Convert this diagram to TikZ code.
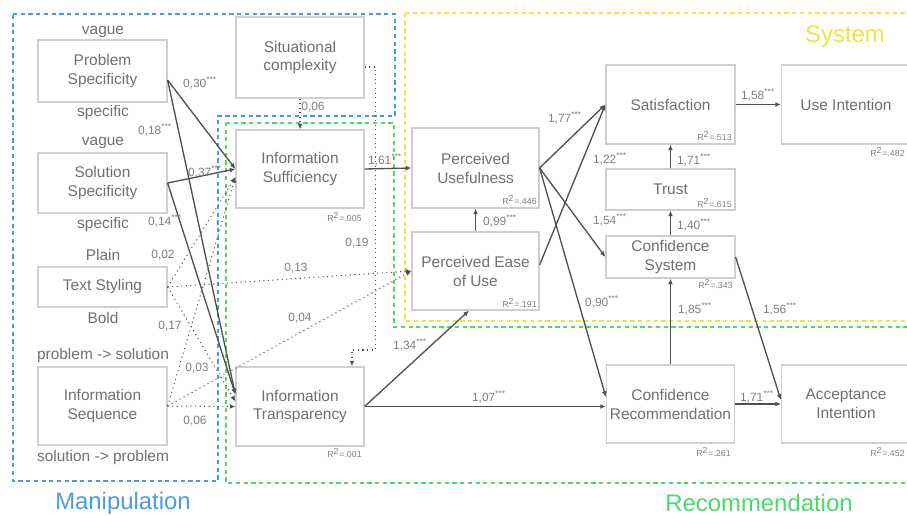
\documentclass[tikz,border=0pt]{standalone}
\usepackage{fontspec}
\setmainfont{Liberation Sans}
\usepackage{xcolor}
\usetikzlibrary{arrows.meta,positioning}
\definecolor{manblue}{HTML}{4A9BE3}
\definecolor{recgreen}{HTML}{4CD96B}
\definecolor{sysyellow}{HTML}{EFE445}
\definecolor{boxgray}{HTML}{CFCFCF}
\definecolor{txtgray}{HTML}{707070}
\definecolor{coefgray}{HTML}{808080}
\definecolor{linegray}{HTML}{505050}

\begin{document}
\begin{tikzpicture}[
    x=0.02cm, y=-0.02cm,
    box/.style={rectangle, draw=boxgray, line width=0.7pt, fill=white, text=txtgray, align=center, font=\fontsize{8.8}{10.8}\selectfont, minimum width=2.58cm, minimum height=#1, inner sep=1pt},
    box/.default=1.56cm,
    frame/.style={line width=1.1pt, dash pattern=on 2.4pt off 2pt},
    arrow/.style={-{Latex[length=3.2pt,width=2.8pt]}, draw=linegray, line width=0.75pt},
    dotarrow/.style={arrow, line width=0.6pt, dotted},
    coef/.style={font=\fontsize{6.8}{8}\selectfont, text=coefgray, inner sep=0pt},
    rsq/.style={font=\fontsize{5}{6}\selectfont, text=coefgray, inner sep=0pt, anchor=east},
    level/.style={font=\fontsize{8.8}{10}\selectfont, text=txtgray, inner sep=0pt},
    group/.style={font=\fontsize{13.6}{16}\selectfont, inner sep=0pt}
]
\path[use as bounding box, fill=white] (0,0) rectangle (907,516);
\clip (0,0) rectangle (907,516);

% Frames
\draw[frame, manblue] (13,14) -- (395,14) -- (395,116) -- (218,116) -- (218,481) -- (13,481) -- cycle;
\draw[frame, recgreen] (226,123) -- (394,123) -- (394,327) -- (915,327) -- (915,483) -- (226,483) -- cycle;
\draw[frame, sysyellow] (405,13) rectangle (915,321);

\node[group, text=manblue] (manip) at (123,503) {Manipulation};
\node[group, text=sysyellow] (system) at (845,37) {System};
\node[group, text=recgreen] (recom) at (759,503) {Recommendation};

% Manipulated factors
\node[box=1.24cm] (prob) at (102.5,71) {Problem\\Specificity};
\node[box=1.2cm] (sol) at (102.5,183) {Solution\\Specificity};
\node[box=0.8cm] (styling) at (102.5,287) {Text Styling};
\node[box=1.56cm] (seq) at (102.5,406) {Information\\Sequence};

\node[level] (pvague) at (103,32) {vague};
\node[level] (pspec) at (103,113) {specific};
\node[level] (svague) at (103,143) {vague};
\node[level] (sspec) at (103,225) {specific};
\node[level] (plain) at (103,255) {Plain};
\node[level] (bold) at (103,318) {Bold};
\node[level] (probsol) at (103,356) {problem -> solution};
\node[level] (solprob) at (103,458) {solution -> problem};

% Information quality
\node[box=1.62cm, minimum width=2.56cm] (sit) at (300,57.5) {Situational\\complexity};
\node[box=1.56cm, minimum width=2.56cm] (suff) at (300,169) {Information\\Sufficiency};
\node[box=1.58cm, minimum width=2.56cm] (trans) at (300,406.5) {Information\\Transparency};

% TAM constructs
\node[box=1.6cm, minimum width=2.54cm] (pu) at (475.5,168) {Perceived\\Usefulness};
\node[box=1.56cm, minimum width=2.54cm] (peou) at (475.5,271) {Perceived Ease\\of Use};

% System outcomes
\node[box=1.58cm] (sat) at (670.5,104.5) {Satisfaction};
\node[box=0.82cm] (trust) at (670.5,189.5) {Trust};
\node[box=0.84cm] (confsys) at (670.5,257) {Confidence\\System};
\node[box=1.58cm] (useint) at (846,104.5) {Use Intention};

% Recommendation outcomes
\node[box=1.56cm, minimum width=2.56cm] (confrec) at (670.5,404) {Confidence\\Recommendation};
\node[box=1.56cm] (accint) at (846,404) {Acceptance\\Intention};

% R squared
\node[rsq] (rsuff) at (362,217) {R\textsuperscript{2}=.005};
\node[rsq] (rtrans) at (362,453) {R\textsuperscript{2}=.001};
\node[rsq] (rpu) at (537,200) {R\textsuperscript{2}=.446};
\node[rsq] (rpeou) at (537,303) {R\textsuperscript{2}=.191};
\node[rsq] (rsat) at (732,136) {R\textsuperscript{2}=.513};
\node[rsq] (rtrust) at (732,203) {R\textsuperscript{2}=.615};
\node[rsq] (rconfsys) at (733,284) {R\textsuperscript{2}=.343};
\node[rsq] (ruseint) at (905,152) {R\textsuperscript{2}=.482};
\node[rsq] (rconfrec) at (731,452) {R\textsuperscript{2}=.261};
\node[rsq] (raccint) at (905,452) {R\textsuperscript{2}=.452};

% Manipulation -> information quality
\draw[arrow] ([yshift=-0.18cm]prob.east) -- (suff.west) node[coef] (c30) at (200,83) {0,30\textsuperscript{***}};
\draw[arrow] ([yshift=-0.18cm]prob.east) -- ([yshift=0.24cm]trans.west) node[coef] (c18) at (155,130) {0,18\textsuperscript{***}};
\draw[arrow] (sol.east) -- (suff.west) node[coef] (c37) at (205,172) {0,37\textsuperscript{***}};
\draw[arrow] (sol.east) -- ([yshift=0.24cm]trans.west) node[coef] (c14) at (165,221) {0,14\textsuperscript{***}};
\draw[dotarrow] (styling.east) -- ([yshift=-0.16cm]suff.west) node[coef] (c02) at (163,255) {0,02};
\draw[dotarrow] (styling.east) -- ([yshift=0.1cm]trans.west) node[coef] (c17) at (170,326) {0,17};
\draw[dotarrow] (styling.east) -- (peou.west) node[coef] (c13) at (296,268) {0,13};
\draw[dotarrow] (seq.east) -- ([yshift=-0.16cm]suff.west) node[coef] (c03) at (197,368) {0,03};
\draw[dotarrow] (seq.east) -- (trans.west) node[coef] (c06) at (195,421) {0,06};
\draw[dotarrow] (seq.east) -- (peou.west) node[coef] (c04) at (300,318) {0,04};

% Situational complexity
\draw[dotarrow] (sit.south) -- (suff.north) node[coef] (csit) at (313,107) {0,06};
\draw[dotarrow] ([yshift=-0.19cm]sit.east) -- ++(11,0) -- ++(0,283) -| ([xshift=1.04cm]trans.north) node[coef] (c19) at (357,243) {0,19};

% Information quality -> TAM
\draw[arrow] (suff.east) -- (pu.west) node[coef] (c161) at (385,160) {1,61\textsuperscript{***}};
\draw[arrow] (trans.east) -- ([xshift=-0.13cm]peou.south) node[coef] (c134) at (410,345) {1,34\textsuperscript{***}};
\draw[arrow] (trans.east) -- (trans.east -| confrec.west) node[coef] (c107) at (489,397) {1,07\textsuperscript{***}};
\draw[arrow] (peou.north) -- (pu.south) node[coef] (c099) at (500,221) {0,99\textsuperscript{***}};

% TAM -> outcomes
\draw[arrow] (pu.east) -- (sat.west) node[coef] (c177) at (565,118) {1,77\textsuperscript{***}};
\draw[arrow] ([yshift=0.12cm]peou.east) -- (sat.west) node[coef] (c122) at (610,159) {1,22\textsuperscript{***}};
\draw[arrow] (pu.east) -- (confsys.west) node[coef] (c154) at (610,220) {1,54\textsuperscript{***}};
\draw[arrow] (pu.east) -- ([yshift=0.14cm]confrec.west) node[coef] (c090) at (602,302) {0,90\textsuperscript{***}};
\draw[arrow] (trust.north) -- (sat.south) node[coef] (c171t) at (694,160) {1,71\textsuperscript{***}};
\draw[arrow] (confsys.north) -- (trust.south) node[coef] (c140) at (694,225) {1,40\textsuperscript{***}};
\draw[arrow] (confrec.north) -- (confsys.south) node[coef] (c185) at (695,309) {1,85\textsuperscript{***}};
\draw[arrow] (sat.east) -- (useint.west) node[coef] (c158) at (758,95) {1,58\textsuperscript{***}};
\draw[arrow] (confsys.east) -- ([yshift=0.08cm]accint.west) node[coef] (c156) at (780,309) {1,56\textsuperscript{***}};
\draw[arrow] (confrec.east) -- (accint.west) node[coef] (c171a) at (757,397) {1,71\textsuperscript{***}};

\end{tikzpicture}
\end{document}
